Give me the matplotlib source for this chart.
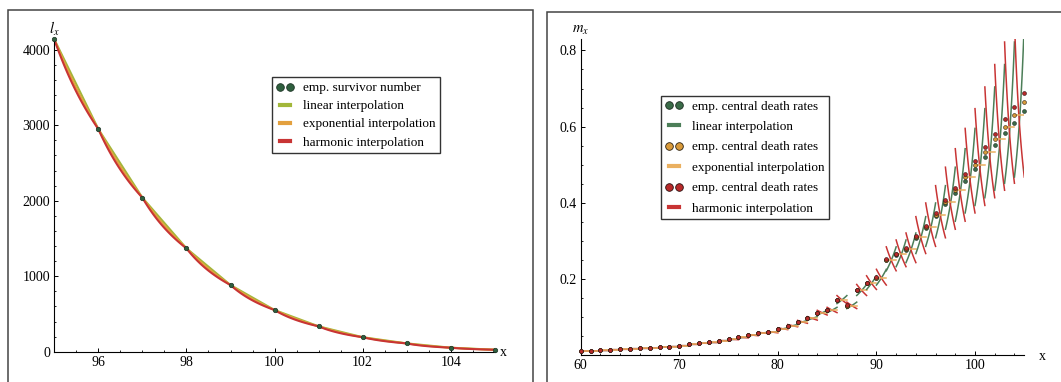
import numpy as np
import matplotlib
matplotlib.use('Agg')
from matplotlib import pyplot as plt
from matplotlib.lines import Line2D
from matplotlib.patches import Rectangle
from matplotlib.ticker import MultipleLocator

plt.rcParams['font.family'] = ['Liberation Serif', 'DejaVu Serif']
plt.rcParams['mathtext.fontset'] = 'stix'

# left panel: empirical survivor numbers l_x
ages_l = [95, 96, 97, 98, 99, 100, 101, 102, 103, 104, 105]
lx = [4137, 2949, 2040, 1369, 883, 552, 336, 192, 110, 53, 26]

# right panel: empirical central death rates m_x under the three assumptions
ages_r = list(range(60, 106))
m_exp = [0.0105, 0.011, 0.012, 0.014, 0.015, 0.0166, 0.0175, 0.019, 0.021, 0.022,
         0.0245, 0.028, 0.031, 0.033, 0.0377, 0.041, 0.046, 0.052, 0.058, 0.060,
         0.069, 0.077, 0.087, 0.096, 0.111, 0.118, 0.145, 0.130, 0.170, 0.189,
         0.203, 0.250, 0.264, 0.278, 0.310, 0.336, 0.368, 0.401, 0.433, 0.467,
         0.499, 0.533, 0.567, 0.600, 0.630, 0.664]
m_lin = [0.0105, 0.011, 0.012, 0.014, 0.015, 0.0166, 0.0175, 0.019, 0.021, 0.022,
         0.0245, 0.028, 0.031, 0.033, 0.0377, 0.041, 0.046, 0.052, 0.058, 0.060,
         0.069, 0.077, 0.087, 0.096, 0.111, 0.118, 0.1448, 0.1298, 0.1696, 0.1885,
         0.2023, 0.2487, 0.2625, 0.2762, 0.3075, 0.3328, 0.3639, 0.3956, 0.4262, 0.4580,
         0.4886, 0.5204, 0.5518, 0.5820, 0.6100, 0.6400]
m_harm = [0.0105, 0.011, 0.012, 0.014, 0.015, 0.0166, 0.0175, 0.019, 0.021, 0.022,
          0.0245, 0.028, 0.031, 0.033, 0.0377, 0.041, 0.046, 0.052, 0.058, 0.060,
          0.069, 0.077, 0.087, 0.096, 0.111, 0.118, 0.1452, 0.1302, 0.1704, 0.1895,
          0.2037, 0.2513, 0.2655, 0.2798, 0.3125, 0.3392, 0.3722, 0.4064, 0.4398, 0.4755,
          0.5094, 0.5456, 0.5815, 0.6190, 0.6510, 0.6875]

dot_green = '#2f5f3e'
lin_left = '#a2b73a'
orange = '#e3a03e'
orange_r = '#eab060'
red = '#c83434'
green_line = '#4c7e58'

W, H = 1061, 382
fig = plt.figure(figsize=(W / 100, H / 100), dpi=100)

# panel frames
fig.add_artist(Rectangle((8 / W, -0.1), (533 - 8) / W, (H - 10) / H + 0.1,
                         transform=fig.transFigure, fill=False, ec='#444444', lw=1.1))
fig.add_artist(Rectangle((547 / W, -0.1), 0.5, (H - 12) / H + 0.1,
                         transform=fig.transFigure, fill=False, ec='#444444', lw=1.1))

ax1 = fig.add_axes([54.3 / W, 30.3 / H, 440.5 / W, 312.3 / H])
ax2 = fig.add_axes([580.7 / W, 27.0 / H, 443.6 / W, 315.6 / H])

for ax in (ax1, ax2):
    ax.spines['top'].set_visible(False)
    ax.spines['right'].set_visible(False)
    ax.spines['left'].set_linewidth(0.8)
    ax.spines['bottom'].set_linewidth(0.8)
    ax.tick_params(which='both', direction='in', labelsize=10, pad=3)
    ax.tick_params(which='major', length=3, width=0.7)
    ax.tick_params(which='minor', length=1.6, width=0.6)
    ax.patch.set_alpha(0)

# ---- left panel ----
t = np.linspace(0, 1, 30)
for i in range(len(ages_l) - 1):
    a, b = lx[i], lx[i + 1]
    xs = ages_l[i] + t
    ax1.plot(xs, (1 - t) * a + t * b, color=lin_left, lw=1.5)
    ax1.plot(xs, a * (b / a) ** t, color=orange, lw=1.5)
    ax1.plot(xs, 1 / ((1 - t) / a + t / b), color=red, lw=1.5)
ax1.plot(ages_l, lx, ls='none', marker='o', ms=3.2, mfc=dot_green, mec='#1c3324',
         mew=0.5, clip_on=False, zorder=5)

ax1.set_xlim(95, 105)
ax1.set_ylim(0, 4137)
ax1.xaxis.set_major_locator(MultipleLocator(2))
ax1.xaxis.set_minor_locator(MultipleLocator(0.5))
ax1.yaxis.set_major_locator(MultipleLocator(1000))
ax1.yaxis.set_minor_locator(MultipleLocator(200))
ax1.text(0.0, 1.032, '$l_x$', transform=ax1.transAxes, ha='center', va='center', fontsize=10.5)
ax1.text(1.019, -0.004, 'x', transform=ax1.transAxes, ha='center', va='center', fontsize=10)

h_left = [
    Line2D([], [], ls='none', marker='o', ms=5.5, mfc=dot_green, mec='#1c3324', mew=0.6),
    Line2D([], [], color=lin_left, lw=3),
    Line2D([], [], color=orange, lw=3),
    Line2D([], [], color=red, lw=3),
]
lab_left = ['emp. survivor number', 'linear interpolation',
            'exponential interpolation', 'harmonic interpolation']
leg1 = ax1.legend(h_left, lab_left, loc='upper left', bbox_to_anchor=(0.4935, 0.8787),
                  borderaxespad=0, numpoints=2, fontsize=9.5, frameon=True, fancybox=False,
                  edgecolor='#333333', framealpha=1, labelspacing=0.45, handlelength=1.35,
                  handletextpad=0.65, borderpad=0.35)
leg1.get_frame().set_linewidth(1.0)

# ---- right panel ----
for age, mu in zip(ages_r, m_exp):
    q = 1 - np.exp(-mu)
    xs = age + t
    ax2.plot(xs, q / (1 - t * q), color=green_line, lw=1.1)
    ax2.plot(xs, q / (1 - (1 - t) * q), color=red, lw=1.1)
    ax2.plot([age, age + 1], [mu, mu], color=orange_r, lw=1.1)

ax2.plot(ages_r, m_lin, ls='none', marker='o', ms=2.8, mfc='#3a6b48', mec='#1c2a20',
         mew=0.4, clip_on=False, zorder=5)
ax2.plot(ages_r, m_exp, ls='none', marker='o', ms=2.8, mfc='#d99a3a', mec='#2a2010',
         mew=0.4, clip_on=False, zorder=6)
ax2.plot(ages_r, m_harm, ls='none', marker='o', ms=2.8, mfc='#b82a2a', mec='#2a1010',
         mew=0.4, clip_on=False, zorder=7)

ax2.set_xlim(60, 105)
ax2.set_ylim(0, 0.829)
ax2.xaxis.set_major_locator(MultipleLocator(10))
ax2.xaxis.set_minor_locator(MultipleLocator(2))
ax2.set_yticks([0.2, 0.4, 0.6, 0.8])
ax2.set_yticklabels(['0.2', '0.4', '0.6', '0.8'])
ax2.yaxis.set_minor_locator(MultipleLocator(0.05))
ax2.text(0.0, 1.028, '$m_x$', transform=ax2.transAxes, ha='center', va='center', fontsize=10.5)
ax2.text(1.04, -0.006, 'x', transform=ax2.transAxes, ha='center', va='center', fontsize=10)

h_right = [
    Line2D([], [], ls='none', marker='o', ms=5.5, mfc='#3a6b48', mec='#1c2a20', mew=0.6),
    Line2D([], [], color=green_line, lw=3),
    Line2D([], [], ls='none', marker='o', ms=5.5, mfc='#d99a3a', mec='#2a2010', mew=0.6),
    Line2D([], [], color=orange_r, lw=3),
    Line2D([], [], ls='none', marker='o', ms=5.5, mfc='#b82a2a', mec='#2a1010', mew=0.6),
    Line2D([], [], color=red, lw=3),
]
lab_right = ['emp. central death rates', 'linear interpolation',
             'emp. central death rates', 'exponential interpolation',
             'emp. central death rates', 'harmonic interpolation']
leg2 = ax2.legend(h_right, lab_right, loc='upper left', bbox_to_anchor=(0.1803, 0.8216),
                  borderaxespad=0, numpoints=2, fontsize=9.5, frameon=True, fancybox=False,
                  edgecolor='#333333', framealpha=1, labelspacing=0.62, handlelength=1.35,
                  handletextpad=0.65, borderpad=0.35)
leg2.get_frame().set_linewidth(1.0)

fig.savefig('out.png', dpi=100)
